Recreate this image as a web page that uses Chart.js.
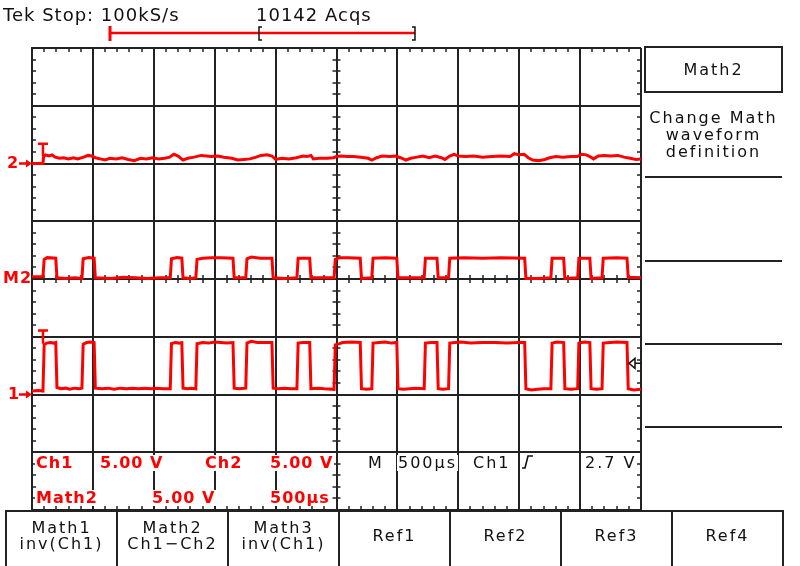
<!DOCTYPE html>
<html>
<head>
<meta charset="utf-8">
<title>Tek scope - Math2</title>
<script src="https://cdn.jsdelivr.net/npm/chart.js@4.4.1/dist/chart.umd.min.js"></script>
<style>
  body { margin: 0; background: #fff; }
  #wrap { position: relative; width: 800px; height: 566px; overflow: hidden; font-family: "DejaVu Sans", sans-serif; }
  #scope { position: absolute; left: 0; top: 0; }
  .t { position: absolute; font-size: 16px; line-height: 16px; letter-spacing: 2px; white-space: pre; color: #111; }
  .hdr { font-size: 18px; line-height: 18px; letter-spacing: 1px; }
  .red { color: #f00; font-weight: bold; letter-spacing: 1px; }
  .bg { background: #fff; padding: 0 1px; }
  .btn { position: absolute; top: 510px; height: 56px; border-left: 2px solid #222; border-top: 2px solid #222;
         box-sizing: border-box; display: flex; align-items: center; justify-content: center; text-align: center;
         font-size: 16px; line-height: 16px; letter-spacing: 2px; color: #111; padding-bottom: 6px; }
  .rule { position: absolute; left: 645px; width: 137px; height: 2px; background: #222; }
</style>
</head>
<body>
<div id="wrap">
  <canvas id="scope" width="800" height="566"></canvas>

  <div class="t hdr" style="left:3px; top:6px;">Tek Stop: 100kS/s</div>
  <div class="t hdr" style="left:256px; top:6px;">10142 Acqs</div>

  <div class="t red" style="left:7px; top:155px;">2</div>
  <div class="t red" style="left:3px; top:270px;">M2</div>
  <div class="t red" style="left:8px; top:386px;">1</div>

  <div class="t red bg" style="left:35px; top:455px;">Ch1</div>
  <div class="t red bg" style="left:99px; top:455px;">5.00 V</div>
  <div class="t red bg" style="left:204px; top:455px;">Ch2</div>
  <div class="t red bg" style="left:269px; top:455px;">5.00 V</div>
  <div class="t red bg" style="left:35px; top:490px;">Math2</div>
  <div class="t red bg" style="left:151px; top:490px;">5.00 V</div>
  <div class="t red bg" style="left:269px; top:490px;">500µs</div>

  <div class="t bg" style="left:367px; top:455px;">M</div>
  <div class="t bg" style="left:397px; top:455px;">500µs</div>
  <div class="t bg" style="left:472px; top:455px;">Ch1</div>
  <div class="t bg" style="left:520px; top:454px;"><svg width="14" height="16"><path d="M1 14 L4 14 L7 2 L12 2" fill="none" stroke="#111" stroke-width="1.6"/></svg></div>
  <div class="t bg" style="left:584px; top:455px;">2.7 V</div>

  <div class="t" style="left:644px; top:46px; width:139px; height:47px; border:2px solid #222; box-sizing:border-box; text-align:center; line-height:43px;">Math2</div>
  <div class="t" style="left:645px; top:109px; width:137px; text-align:center; line-height:17px;">Change Math
waveform
definition</div>
  <div class="rule" style="top:176px;"></div>
  <div class="rule" style="top:260px;"></div>
  <div class="rule" style="top:343px;"></div>
  <div class="rule" style="top:426px;"></div>

  <div class="btn" style="left:5px; width:111px;">Math1<br>inv(Ch1)</div>
  <div class="btn" style="left:116px; width:111px;">Math2<br>Ch1−Ch2</div>
  <div class="btn" style="left:227px; width:111px;">Math3<br>inv(Ch1)</div>
  <div class="btn" style="left:338px; width:111px;">Ref1</div>
  <div class="btn" style="left:449px; width:111px;">Ref2</div>
  <div class="btn" style="left:560px; width:111px;">Ref3</div>
  <div class="btn" style="left:671px; width:113px; border-right:2px solid #222;">Ref4</div>
</div>

<script>
// time in divisions (0..10), level in divisions (0..8)
const ch1Time = [0, 0.10, 0.18, 0.20, 0.24, 0.30, 0.36, 0.39, 0.41, 0.48, 0.55, 0.62, 0.70, 0.78, 0.82,
  0.84, 0.90, 0.96, 1.02, 1.04, 1.15, 1.25, 1.35, 1.45, 1.55, 1.65, 1.75, 1.85, 1.95, 2.05, 2.15, 2.27,
  2.29, 2.35, 2.42, 2.46, 2.48, 2.55, 2.62, 2.69, 2.71, 2.80, 2.90, 3.00, 3.10, 3.20, 3.30, 3.32, 3.40, 3.51,
  3.53, 3.60, 3.70, 3.80, 3.94, 3.96, 4.05, 4.15, 4.25, 4.35, 4.37, 4.45, 4.56, 4.58, 4.70, 4.80, 4.96,
  4.98, 5.05, 5.10, 5.25, 5.39, 5.41, 5.50, 5.58, 5.60, 5.70, 5.80, 5.90, 5.99, 6.01, 6.10, 6.20, 6.30, 6.44,
  6.46, 6.55, 6.65, 6.67, 6.75, 6.84, 6.86, 6.95, 7.05, 7.20, 7.40, 7.60, 7.80, 8.00, 8.09, 8.11, 8.20, 8.30,
  8.40, 8.52, 8.54, 8.62, 8.73, 8.75, 8.85, 8.96, 8.98, 9.07, 9.16, 9.18, 9.27, 9.36, 9.38, 9.50, 9.60, 9.77,
  9.79, 9.88, 10];
const ch1Level = [2.06, 2.07, 2.06, 2.86, 2.89, 2.90, 2.89, 2.90, 2.12, 2.10, 2.11, 2.09, 2.11, 2.10, 2.11,
  2.87, 2.90, 2.91, 2.90, 2.11, 2.10, 2.11, 2.09, 2.11, 2.10, 2.11, 2.10, 2.11, 2.10, 2.11, 2.10, 2.10,
  2.88, 2.90, 2.89, 2.90, 2.11, 2.10, 2.11, 2.10, 2.88, 2.90, 2.89, 2.91, 2.90, 2.89, 2.90, 2.11, 2.10, 2.11,
  2.89, 2.92, 2.90, 2.90, 2.90, 2.11, 2.10, 2.11, 2.10, 2.10, 2.89, 2.90, 2.90, 2.10, 2.11, 2.10, 2.09,
  2.86, 2.88, 2.90, 2.91, 2.90, 2.10, 2.09, 2.10, 2.89, 2.90, 2.91, 2.89, 2.90, 2.10, 2.09, 2.10, 2.11, 2.10,
  2.89, 2.90, 2.90, 2.10, 2.09, 2.10, 2.89, 2.90, 2.91, 2.89, 2.90, 2.90, 2.89, 2.90, 2.90, 2.10, 2.08, 2.09,
  2.10, 2.10, 2.89, 2.91, 2.90, 2.10, 2.09, 2.10, 2.89, 2.91, 2.90, 2.10, 2.09, 2.10, 2.89, 2.90, 2.91, 2.90,
  2.10, 2.08, 2.09];

const ch2Time = [0, 0.18, 0.19, 0.22, 0.28, 0.33, 0.38, 0.45, 0.52, 0.60, 0.68, 0.75, 0.85, 0.92, 0.98, 1.04,
  1.12, 1.20, 1.28, 1.38, 1.48, 1.58, 1.68, 1.78, 1.88, 1.98, 2.08, 2.18, 2.26, 2.33, 2.40, 2.48, 2.56, 2.66,
  2.78, 2.86, 2.95, 3.05, 3.15, 3.28, 3.38, 3.48, 3.58, 3.68, 3.76, 3.86, 3.94, 4.00, 4.10, 4.22, 4.34, 4.45,
  4.52, 4.58, 4.62, 4.72, 4.85, 4.95, 5.00, 5.08, 5.18, 5.28, 5.40, 5.52, 5.58, 5.66, 5.75, 5.88, 5.97, 6.05,
  6.14, 6.22, 6.32, 6.42, 6.52, 6.62, 6.72, 6.78, 6.86, 6.93, 7.00, 7.12, 7.25, 7.40, 7.55, 7.70, 7.85, 7.92,
  8.00, 8.08, 8.15, 8.22, 8.32, 8.42, 8.50, 8.60, 8.72, 8.85, 8.95, 9.03, 9.10, 9.16, 9.22, 9.30, 9.40, 9.50,
  9.62, 9.72, 9.82, 9.92, 10];
const ch2Level = [6.00, 6.00, 6.12, 6.15, 6.13, 6.15, 6.11, 6.09, 6.10, 6.08, 6.10, 6.08, 6.11, 6.14, 6.13, 6.10,
  6.08, 6.06, 6.09, 6.08, 6.10, 6.07, 6.05, 6.09, 6.08, 6.10, 6.08, 6.09, 6.11, 6.16, 6.13, 6.06, 6.09, 6.11,
  6.14, 6.13, 6.12, 6.13, 6.11, 6.09, 6.06, 6.07, 6.08, 6.11, 6.14, 6.15, 6.13, 6.07, 6.09, 6.08, 6.10, 6.13,
  6.12, 6.14, 6.08, 6.09, 6.09, 6.10, 6.12, 6.13, 6.12, 6.12, 6.11, 6.09, 6.06, 6.10, 6.13, 6.12, 6.13, 6.10,
  6.06, 6.09, 6.11, 6.13, 6.10, 6.13, 6.10, 6.07, 6.13, 6.16, 6.13, 6.12, 6.13, 6.11, 6.12, 6.13, 6.12, 6.17,
  6.15, 6.16, 6.10, 6.06, 6.05, 6.07, 6.10, 6.12, 6.11, 6.12, 6.12, 6.16, 6.15, 6.12, 6.08, 6.13, 6.14, 6.13,
  6.14, 6.11, 6.09, 6.07, 6.08];

const m2Time = [0, 0.18, 0.20, 0.25, 0.39, 0.41, 0.55, 0.70, 0.82, 0.84, 0.93, 1.02, 1.04, 1.30, 1.50, 1.70,
  1.90, 2.10, 2.27, 2.29, 2.38, 2.46, 2.48, 2.60, 2.69, 2.71, 2.80, 2.95, 3.10, 3.30, 3.32, 3.51, 3.53, 3.60,
  3.75, 3.94, 3.96, 4.15, 4.35, 4.37, 4.56, 4.58, 4.75, 4.96, 4.98, 5.05, 5.20, 5.39, 5.41, 5.58, 5.60, 5.80,
  5.99, 6.01, 6.20, 6.44, 6.46, 6.65, 6.67, 6.84, 6.86, 7.10, 7.40, 7.70, 8.09, 8.11, 8.30, 8.52, 8.54, 8.73,
  8.75, 8.96, 8.98, 9.16, 9.18, 9.36, 9.38, 9.60, 9.77, 9.79, 10];
const m2Level = [4.04, 4.04, 4.34, 4.37, 4.36, 4.02, 4.01, 4.02, 4.01, 4.35, 4.37, 4.36, 4.02, 4.01, 4.03, 4.02,
  4.01, 4.02, 4.02, 4.35, 4.37, 4.36, 4.02, 4.01, 4.02, 4.34, 4.36, 4.37, 4.37, 4.36, 4.02, 4.02, 4.35, 4.38,
  4.36, 4.36, 4.02, 4.01, 4.02, 4.36, 4.36, 4.02, 4.02, 4.02, 4.34, 4.37, 4.37, 4.36, 4.01, 4.02, 4.36, 4.37,
  4.36, 4.02, 4.02, 4.02, 4.36, 4.36, 4.02, 4.02, 4.36, 4.37, 4.36, 4.37, 4.36, 4.01, 4.01, 4.02, 4.36, 4.36,
  4.01, 4.02, 4.36, 4.36, 4.01, 4.02, 4.36, 4.37, 4.36, 4.03, 4.02];

const channelOffsets = [6, 2];   // Ch2, Ch1 ground markers
const triggerTime = 0.18;
const triggerLevel = 2.54;       // Ch1 offset + 2.7 V / 5 V per div

function toPoints(times, levels) {
    return times.map((t, i) => ({ x: t, y: levels[i] }));
}

const traceStyle = { borderColor: '#ff0000', borderWidth: 3, pointRadius: 0, tension: 0, fill: false };

const scopeMarks = {
    id: 'scopeMarks',
    beforeDatasetsDraw(chart) {
        const { ctx, chartArea: a, scales: { x, y } } = chart;
        const cx = x.getPixelForValue(5);
        const cy = y.getPixelForValue(4);
        ctx.save();
        ctx.strokeStyle = '#222';
        ctx.lineWidth = 1.5;
        ctx.beginPath();
        for (let i = 1; i < 50; i++) {
            const px = Math.round(x.getPixelForValue(i / 5));
            ctx.moveTo(px, a.top); ctx.lineTo(px, a.top + 4);
            ctx.moveTo(px, a.bottom); ctx.lineTo(px, a.bottom - 4);
            ctx.moveTo(px, cy - 4); ctx.lineTo(px, cy + 4);
        }
        for (let i = 1; i < 40; i++) {
            const py = Math.round(y.getPixelForValue(i / 5));
            ctx.moveTo(a.left, py); ctx.lineTo(a.left + 4, py);
            ctx.moveTo(a.right, py); ctx.lineTo(a.right - 4, py);
            ctx.moveTo(cx - 4, py); ctx.lineTo(cx + 4, py);
        }
        ctx.stroke();
        ctx.restore();
    },
    afterDraw(chart) {
        const { ctx, chartArea: a, scales: { x, y } } = chart;
        ctx.save();
        ctx.strokeStyle = '#f00';
        ctx.fillStyle = '#f00';
        ctx.lineWidth = 2.5;

        // ground arrows for Ch2 and Ch1
        channelOffsets.forEach(lv => {
            const py = y.getPixelForValue(lv);
            ctx.beginPath();
            ctx.moveTo(19, py); ctx.lineTo(27, py);
            ctx.stroke();
            ctx.beginPath();
            ctx.moveTo(26, py - 4); ctx.lineTo(32, py); ctx.lineTo(26, py + 4);
            ctx.closePath();
            ctx.fill();
        });

        // trigger-point "T" marks
        const tx = x.getPixelForValue(triggerTime);
        [[6.34, 6.13], [3.11, 2.88]].forEach(([top, bot]) => {
            const y0 = y.getPixelForValue(top), y1 = y.getPixelForValue(bot);
            ctx.beginPath();
            ctx.moveTo(tx - 5, y0); ctx.lineTo(tx + 5, y0);
            ctx.moveTo(tx, y0); ctx.lineTo(tx, y1);
            ctx.stroke();
        });

        // record bar on top
        ctx.beginPath();
        ctx.moveTo(110, 33); ctx.lineTo(415, 33);
        ctx.stroke();
        ctx.lineWidth = 3;
        ctx.beginPath();
        ctx.moveTo(110, 26); ctx.lineTo(110, 41);
        ctx.stroke();

        ctx.strokeStyle = '#111';
        ctx.lineWidth = 1.5;
        ctx.beginPath();
        ctx.moveTo(262, 27); ctx.lineTo(259, 27); ctx.lineTo(259, 40); ctx.lineTo(262, 40);
        ctx.moveTo(412, 27); ctx.lineTo(415, 27); ctx.lineTo(415, 40); ctx.lineTo(412, 40);
        ctx.stroke();

        // trigger level arrow on right edge
        const ty = y.getPixelForValue(triggerLevel);
        ctx.beginPath();
        ctx.moveTo(629, ty); ctx.lineTo(635, ty - 5); ctx.lineTo(635, ty + 5); ctx.closePath();
        ctx.moveTo(635, ty); ctx.lineTo(a.right, ty);
        ctx.stroke();
        ctx.restore();
    }
};

const gridOpts = { color: '#222', lineWidth: 2, drawTicks: false };

new Chart(document.getElementById('scope'), {
    type: 'line',
    data: {
        datasets: [
            Object.assign({ label: 'Ch2', data: toPoints(ch2Time, ch2Level) }, traceStyle),
            Object.assign({ label: 'Math2', data: toPoints(m2Time, m2Level) }, traceStyle),
            Object.assign({ label: 'Ch1', data: toPoints(ch1Time, ch1Level) }, traceStyle)
        ]
    },
    options: {
        responsive: false,
        animation: false,
        devicePixelRatio: 1,
        layout: { padding: { left: 32, top: 48, right: 159, bottom: 56 } },
        plugins: { legend: { display: false }, tooltip: { enabled: false } },
        scales: {
            x: {
                type: 'linear', min: 0, max: 10,
                ticks: { stepSize: 1, display: false },
                grid: gridOpts,
                border: { color: '#222', width: 2 }
            },
            y: {
                type: 'linear', min: 0, max: 8,
                ticks: { stepSize: 1, display: false },
                grid: gridOpts,
                border: { color: '#222', width: 2 }
            }
        }
    },
    plugins: [scopeMarks]
});
</script>
</body>
</html>
